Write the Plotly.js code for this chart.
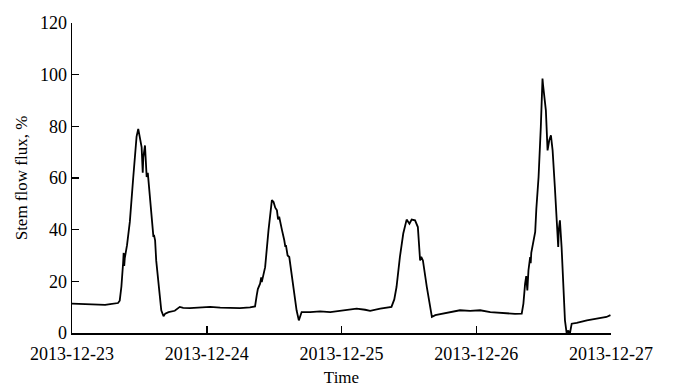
<!DOCTYPE html>
<html>
<head>
<meta charset="utf-8">
<script src="https://cdn.plot.ly/plotly-3.0.1.min.js"></script>
<style>html,body{margin:0;padding:0;background:#fff;}#chart{width:673px;height:387px;}</style>
</head>
<body>
<div id="chart"></div>
<script>
// Time in hours since 2013-12-23 00:00
const startDate = '2013-12-23T00:00:00';
const hours = [
  0, 2.3, 5.0, 5.9, 6.8, 8.2, 8.5, 8.8, 9.1, 9.2, 9.3, 9.4, 9.8, 10.3, 10.9, 11.2, 11.5, 11.8, 12.0, 12.4,
  12.6, 12.7, 13.0, 13.2, 13.3, 13.5, 13.9, 14.2, 14.5, 14.6, 14.8, 15.0, 15.4, 15.9, 16.3, 16.6, 17.2, 18.3,
  19.2, 19.8, 21.0, 22.8, 24.6, 26.4, 28.1, 29.9, 31.7, 32.6,
  32.9, 33.1, 33.5, 33.7, 33.8, 34.0, 34.4, 35.0, 35.3, 35.6, 35.9, 36.2, 36.5, 36.7, 36.9, 37.1, 37.4, 37.8,
  38.0, 38.1, 38.4, 38.7, 39.4, 40.0, 40.4, 40.7, 40.9, 42.4, 44.2, 46.0, 47.7, 49.5, 50.7, 52.2, 53.1, 54.9, 56.6,
  56.9, 57.4, 57.8, 58.4, 59.0, 59.6, 60.1, 60.5, 61.1, 61.6, 62.0, 62.2, 62.5, 63.2, 64.1, 64.7, 66.1, 67.3,
  68.5, 69.1, 70.9, 72.7, 74.5, 76.2, 77.4, 78.9, 80.1,
  80.4, 80.7, 80.9, 81.1, 81.3, 81.6, 81.7, 81.8, 82.2, 82.5, 82.7, 83.1, 83.5, 83.8, 83.9, 84.1, 84.4, 84.7,
  84.8, 85.0, 85.3, 85.6, 86.0, 86.4, 86.6, 86.7, 86.9, 87.2, 87.5, 87.8, 88.1, 88.4, 88.5, 88.7, 89.0, 89.9,
  91.7, 93.5, 95.2, 95.9
];
const flux = [
  11.4, 11.3, 11.2, 10.9, 11.2, 11.6, 12.5, 18, 27, 31, 26, 29, 34, 43, 60, 70, 76, 79, 77, 72,
  62, 68, 72.6, 66, 60.4, 62, 51.4, 42, 37.2, 38, 35.9, 28, 20.4, 8.8, 6.5, 7.5, 8.1, 8.6,
  10.1, 9.7, 9.6, 9.8, 10.1, 9.8, 9.8, 9.6, 9.9, 10.3,
  14.6, 17, 19.1, 21.5, 19.7, 22, 25.5, 39.8, 46, 51.4, 50.7, 48.5, 47.5, 44, 45, 42.3, 39.8, 36,
  33.3, 34, 30, 29.4, 17.8, 8.8, 4.9, 7, 8.1, 8.1, 8.4, 8.1, 8.6, 9.0, 9.4, 9.0, 8.6, 9.4, 9.8,
  10.1, 13, 17.8, 29.4, 38.5, 43.9, 42.3, 43.9, 43.6, 41, 28.1, 29.5, 28.1, 17.8, 6.2, 6.9, 7.5, 7.9,
  8.3, 8.8, 8.6, 8.8, 8.1, 7.9, 7.5, 7.4, 7.5,
  11.4, 19.1, 22, 16.5, 24.3, 29.4, 27, 31, 35.9, 39.1, 48, 60.4, 79.8, 98.5, 96, 92.7, 86.2, 70.7,
  73, 74.6, 76.5, 70.7, 56.5, 43.6, 33.3, 40, 43.6, 33.3, 17.8, 4.9, 0, 1.0, 0.2, 0, 3.6, 3.9,
  4.9, 5.6, 6.2, 6.9
];
const tickDates = ['2013-12-23', '2013-12-24', '2013-12-25', '2013-12-26', '2013-12-27'];
const xTitle = 'Time';
const yTitle = 'Stem flow flux, %';

const t0 = new Date(startDate + 'Z').getTime();
function fmt(ms) {
  const d = new Date(ms);
  const p = n => String(n).padStart(2, '0');
  return d.getUTCFullYear() + '-' + p(d.getUTCMonth() + 1) + '-' + p(d.getUTCDate()) + ' ' +
    p(d.getUTCHours()) + ':' + p(d.getUTCMinutes()) + ':' + p(d.getUTCSeconds());
}
const xs = hours.map(h => fmt(t0 + h * 3600000));

const fam = '"Liberation Serif", "Times New Roman", serif';
const titleFont = {family: fam, size: 17, color: '#000'};
const tickFont = {family: fam, size: 18, color: '#000'};

Plotly.newPlot('chart', [{
  x: xs, y: flux, type: 'scatter', mode: 'lines',
  line: {color: '#000', width: 1.8}, hoverinfo: 'skip'
}], {
  width: 673, height: 387,
  margin: {l: 72, r: 62, t: 23, b: 54, pad: 0},
  paper_bgcolor: '#fff', plot_bgcolor: '#fff',
  font: titleFont, showlegend: false,
  xaxis: {
    type: 'date', range: [tickDates[0], tickDates[tickDates.length - 1]],
    tickmode: 'array', tickvals: tickDates, ticktext: tickDates,
    ticks: 'inside', ticklen: 7, tickwidth: 1.5, tickcolor: '#000',
    showline: true, linecolor: '#000', linewidth: 1.5,
    showgrid: false, zeroline: false,
    tickfont: tickFont, ticklabelstandoff: 4,
    title: {text: xTitle, font: titleFont, standoff: 10}
  },
  yaxis: {
    range: [0, 120], tickmode: 'linear', tick0: 0, dtick: 20,
    ticks: 'inside', ticklen: 7, tickwidth: 1.5, tickcolor: '#000',
    showline: true, linecolor: '#000', linewidth: 1.5,
    showgrid: false, zeroline: false,
    tickfont: tickFont,
    title: {text: yTitle, font: titleFont, standoff: 8}
  }
}, {staticPlot: true});
</script>
</body>
</html>
